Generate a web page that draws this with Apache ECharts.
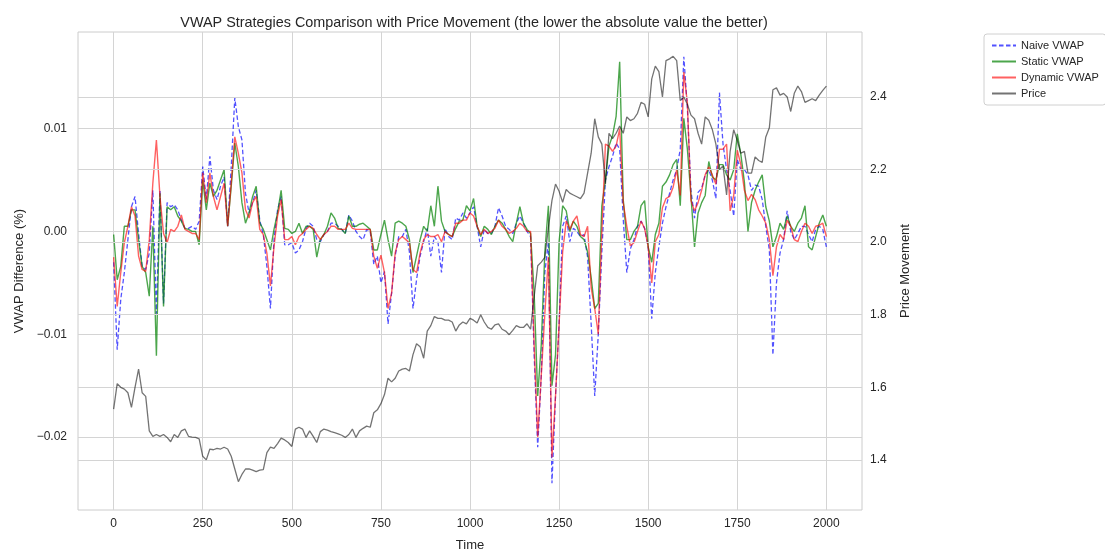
<!DOCTYPE html>
<html>
<head>
<meta charset="utf-8">
<script src="https://cdn.jsdelivr.net/npm/echarts@6/dist/echarts.min.js"></script>
<style>
  html, body { margin: 0; padding: 0; background: #ffffff; }
  #chart { width: 1105px; height: 551px; }
</style>
</head>
<body>
<div id="chart"></div>
<script>
// Time index (0 .. 2000, step 10)
const time = Array.from({ length: 201 }, (_, i) => i * 10);

// VWAP difference (%) series, one value per time step
const naiveVWAP = [
  -0.0030, -0.0115, -0.0066, -0.0040, -0.0008, 0.0024, 0.0034, -0.0002, -0.0034, -0.0037,
  -0.0021, 0.0040, -0.0080, 0.0040, -0.0070, 0.0028, 0.0024, 0.0026, 0.0021, 0.0011,
  0.0003, 0.0003, 0.0005, 0.0002, 0.0010, 0.0063, 0.0031, 0.0073, 0.0040, 0.0031,
  0.0044, 0.0053, 0.0005, 0.0063, 0.0130, 0.0102, 0.0089, 0.0037, 0.0018, 0.0028,
  0.0040, 0.0011, -0.0003, -0.0034, -0.0075, -0.0008, 0.0021, 0.0034, -0.0013, -0.0013,
  -0.0011, -0.0021, -0.0018, -0.0010, 0.0003, 0.0008, 0.0005, -0.0008, -0.0010, -0.0003,
  0.0000, 0.0008, 0.0008, 0.0005, 0.0002, -0.0002, 0.0016, 0.0010, 0.0000, -0.0005,
  -0.0008, 0.0002, 0.0000, -0.0032, -0.0024, -0.0050, -0.0039, -0.0090, -0.0060, -0.0024,
  -0.0005, -0.0005, 0.0002, -0.0020, -0.0075, -0.0047, -0.0024, -0.0010, 0.0003, -0.0024,
  -0.0005, -0.0010, -0.0040, 0.0003, -0.0005, -0.0008, 0.0013, 0.0011, 0.0018, 0.0013,
  0.0018, 0.0024, 0.0005, -0.0015, 0.0002, -0.0002, -0.0002, 0.0005, 0.0023, 0.0015,
  0.0005, 0.0002, -0.0002, 0.0008, 0.0015, 0.0008, 0.0000, -0.0005, -0.0120, -0.0210,
  -0.0140, -0.0040, -0.0010, -0.0245, -0.0160, -0.0090, 0.0005, 0.0015, -0.0010, 0.0003,
  0.0000, -0.0005, -0.0003, -0.0025, -0.0090, -0.0160, -0.0100, -0.0020, 0.0050, 0.0063,
  0.0073, 0.0086, 0.0080, 0.0012, -0.0040, -0.0017, -0.0008, 0.0005, 0.0010, 0.0003,
  -0.0015, -0.0085, -0.0040, -0.0015, 0.0008, 0.0024, 0.0037, 0.0050, 0.0060, 0.0080,
  0.0170, 0.0120, 0.0040, 0.0013, 0.0038, 0.0042, 0.0055, 0.0060, 0.0050, 0.0032,
  0.0135, 0.0085, 0.0060, 0.0040, 0.0015, 0.0070, 0.0060, 0.0060, 0.0055, 0.0040,
  0.0045, 0.0044, 0.0031, 0.0005, -0.0018, -0.0120, -0.0050, -0.0021, -0.0008, 0.0020,
  0.0000, -0.0008, -0.0002, 0.0005, 0.0005, -0.0003, -0.0010, 0.0002, 0.0005, 0.0002,
  -0.0015
];

const staticVWAP = [
  -0.0003, -0.0047, -0.0034, 0.0005, 0.0005, 0.0021, 0.0021, -0.0008, -0.0034, -0.0040,
  -0.0063, 0.0005, -0.0121, 0.0037, -0.0073, 0.0024, 0.0021, 0.0024, 0.0015, 0.0010,
  0.0003, 0.0002, 0.0000, 0.0000, -0.0013, 0.0050, 0.0021, 0.0047, 0.0034, 0.0040,
  0.0050, 0.0060, 0.0005, 0.0044, 0.0086, 0.0063, 0.0028, 0.0008, 0.0018, 0.0034,
  0.0044, 0.0008, 0.0002, -0.0008, -0.0018, 0.0002, 0.0018, 0.0040, 0.0003, 0.0002,
  -0.0002, 0.0000, 0.0008, -0.0002, 0.0005, 0.0005, 0.0002, -0.0025, -0.0008, -0.0003,
  0.0005, 0.0018, 0.0013, 0.0003, 0.0002, -0.0002, 0.0015, 0.0005, 0.0005, 0.0007,
  0.0008, 0.0005, 0.0002, -0.0018, -0.0018, -0.0003, 0.0011, -0.0008, -0.0024, 0.0008,
  0.0010, 0.0008, 0.0005, -0.0008, -0.0040, -0.0024, -0.0008, 0.0005, 0.0000, 0.0025,
  0.0005, 0.0044, 0.0010, 0.0000, -0.0003, -0.0005, 0.0003, 0.0010, 0.0011, 0.0025,
  0.0020, 0.0032, 0.0005, -0.0005, 0.0005, 0.0002, -0.0003, 0.0005, 0.0011, 0.0008,
  0.0002, -0.0005, -0.0010, 0.0008, 0.0024, 0.0008, 0.0002, -0.0002, -0.0060, -0.0160,
  -0.0110, -0.0020, 0.0025, -0.0150, -0.0120, -0.0010, 0.0025, 0.0020, 0.0000, 0.0010,
  0.0005, -0.0005, -0.0008, -0.0020, -0.0045, -0.0075, -0.0070, 0.0025, 0.0050, 0.0083,
  0.0093, 0.0112, 0.0165, 0.0031, -0.0008, -0.0008, 0.0000, 0.0005, 0.0025, 0.0030,
  -0.0015, -0.0030, -0.0003, 0.0008, 0.0044, 0.0048, 0.0055, 0.0065, 0.0070, 0.0025,
  0.0110, 0.0080, 0.0035, -0.0015, 0.0018, 0.0028, 0.0035, 0.0068, 0.0053, 0.0050,
  0.0065, 0.0065, 0.0055, 0.0050, 0.0060, 0.0095, 0.0075, 0.0048, 0.0000, 0.0028,
  0.0040, 0.0048, 0.0055, 0.0024, 0.0010, -0.0015, -0.0005, 0.0008, 0.0002, 0.0015,
  0.0005, 0.0000, 0.0008, 0.0013, 0.0025, -0.0015, -0.0018, -0.0005, 0.0008, 0.0016,
  0.0005
];

const dynamicVWAP = [
  -0.0025, -0.0073, -0.0040, -0.0011, 0.0005, 0.0024, 0.0015, -0.0024, -0.0037, -0.0039,
  -0.0008, 0.0047, 0.0089, 0.0034, -0.0002, -0.0011, 0.0002, 0.0000, 0.0005, 0.0016,
  0.0002, 0.0000, -0.0002, -0.0002, -0.0008, 0.0057, 0.0028, 0.0057, 0.0034, 0.0021,
  0.0034, 0.0047, 0.0005, 0.0047, 0.0092, 0.0076, 0.0057, 0.0021, 0.0013, 0.0028,
  0.0034, 0.0002, -0.0003, -0.0021, -0.0053, -0.0015, 0.0015, 0.0031, -0.0008, -0.0008,
  -0.0005, -0.0013, -0.0005, -0.0002, 0.0002, 0.0005, 0.0003, -0.0003, -0.0008, -0.0003,
  0.0000, 0.0005, 0.0005, 0.0002, 0.0002, 0.0002, 0.0008, 0.0003, 0.0002, 0.0002,
  0.0002, 0.0002, 0.0002, -0.0024, -0.0036, -0.0023, -0.0040, -0.0075, -0.0060, -0.0021,
  -0.0008, -0.0005, -0.0008, -0.0011, -0.0037, -0.0040, -0.0021, -0.0008, -0.0003, -0.0005,
  -0.0005, -0.0003, -0.0010, 0.0000, -0.0003, -0.0005, 0.0008, 0.0008, 0.0011, 0.0011,
  0.0018, 0.0015, 0.0005, -0.0003, 0.0002, -0.0002, 0.0000, 0.0003, 0.0011, 0.0005,
  0.0002, -0.0002, 0.0000, 0.0003, 0.0008, 0.0005, 0.0000, 0.0000, -0.0110, -0.0200,
  -0.0140, -0.0080, -0.0025, -0.0220, -0.0160, -0.0090, -0.0020, 0.0010, 0.0002, 0.0010,
  0.0015, -0.0003, -0.0005, 0.0005, -0.0055, -0.0075, -0.0100, 0.0000, 0.0085, 0.0083,
  0.0078, 0.0083, 0.0100, 0.0028, 0.0005, -0.0014, -0.0011, 0.0000, 0.0010, 0.0003,
  -0.0015, -0.0050, -0.0010, -0.0003, 0.0023, 0.0032, 0.0034, 0.0043, 0.0060, 0.0035,
  0.0155, 0.0125, 0.0030, 0.0020, 0.0028, 0.0040, 0.0055, 0.0063, 0.0055, 0.0046,
  0.0080, 0.0080, 0.0085, 0.0020, 0.0035, 0.0079, 0.0065, 0.0040, 0.0030, 0.0036,
  0.0031, 0.0021, 0.0015, 0.0008, -0.0008, -0.0043, -0.0015, -0.0003, -0.0008, 0.0011,
  0.0005, -0.0008, -0.0010, 0.0000, 0.0008, 0.0005, -0.0002, 0.0005, 0.0006, 0.0008,
  -0.0005
];

// Price series (right axis)
const price = [
  1.540, 1.610, 1.600, 1.595, 1.585, 1.545, 1.600, 1.650, 1.585, 1.575,
  1.480, 1.465, 1.470, 1.465, 1.470, 1.462, 1.450, 1.470, 1.462, 1.480,
  1.485, 1.465, 1.463, 1.462, 1.458, 1.410, 1.400, 1.430, 1.428, 1.432,
  1.430, 1.435, 1.430, 1.410, 1.375, 1.340, 1.360, 1.375, 1.375, 1.372,
  1.368, 1.372, 1.373, 1.420, 1.435, 1.432, 1.445, 1.460, 1.455, 1.448,
  1.437, 1.485, 1.490, 1.485, 1.462, 1.480, 1.465, 1.448, 1.478, 1.485,
  1.482, 1.478, 1.475, 1.472, 1.468, 1.462, 1.470, 1.485, 1.462, 1.480,
  1.487, 1.493, 1.490, 1.530, 1.538, 1.555, 1.580, 1.625, 1.615, 1.625,
  1.645, 1.650, 1.652, 1.645, 1.690, 1.720, 1.712, 1.680, 1.755, 1.770,
  1.795, 1.790, 1.790, 1.785, 1.785, 1.780, 1.755, 1.772, 1.780, 1.775,
  1.790, 1.785, 1.777, 1.800, 1.780, 1.765, 1.760, 1.772, 1.775, 1.760,
  1.755, 1.745, 1.757, 1.770, 1.765, 1.765, 1.775, 1.760, 1.850, 1.935,
  1.945, 1.958, 2.040, 2.115, 2.160, 2.140, 2.110, 2.145, 2.135, 2.130,
  2.125, 2.120, 2.135, 2.190, 2.245, 2.340, 2.290, 2.270, 2.160, 2.300,
  2.285, 2.300, 2.320, 2.300, 2.345, 2.335, 2.340, 2.355, 2.385, 2.380,
  2.345, 2.450, 2.485, 2.470, 2.400, 2.500, 2.505, 2.512, 2.500, 2.390,
  2.400, 2.380, 2.350, 2.340, 2.300, 2.270, 2.345, 2.336, 2.310, 2.270,
  2.200, 2.210, 2.130, 2.250, 2.310, 2.280, 2.245, 2.250, 2.190, 2.190,
  2.235, 2.225, 2.220, 2.290, 2.315, 2.420, 2.425, 2.405, 2.410, 2.400,
  2.360, 2.410, 2.430, 2.415, 2.385, 2.390, 2.395, 2.390, 2.405, 2.418,
  2.430
];

// Tick labels
const xTicks = [0, 250, 500, 750, 1000, 1250, 1500, 1750, 2000];
const leftTicks = [-0.02, -0.01, 0.00, 0.01];
const rightTicks = [1.4, 1.6, 1.8, 2.0, 2.2, 2.4];

const TEXT = '#262626';
const GRIDC = '#d4d4d4';
const FONT = 'Liberation Sans, Arial, sans-serif';

const pairs = arr => time.map((t, i) => [t, arr[i]]);
const fmtMinus = s => s.replace('-', '\u2212');

const chart = echarts.init(document.getElementById('chart'), null, { renderer: 'canvas' });

const option = {
  backgroundColor: '#ffffff',
  animation: false,
  textStyle: { fontFamily: FONT },
  title: {
    text: 'VWAP Strategies Comparison with Price Movement (the lower the absolute value the better)',
    left: 469,
    textAlign: 'center',
    top: 11,
    textStyle: { fontFamily: FONT, fontSize: 14.4, fontWeight: 'normal', color: TEXT }
  },
  legend: {
    orient: 'vertical',
    left: 984,
    top: 34,
    padding: [6, 7, 6, 7],
    itemGap: 5,
    itemWidth: 24,
    itemHeight: 12,
    backgroundColor: 'rgba(255,255,255,0.8)',
    borderColor: '#d0d0d0',
    borderWidth: 1,
    borderRadius: 3,
    itemStyle: { opacity: 0, borderWidth: 0 },
    textStyle: { fontFamily: FONT, fontSize: 11, color: TEXT },
    data: ['Naive VWAP', 'Static VWAP', 'Dynamic VWAP', 'Price']
  },
  grid: {
    left: 78, right: 243, top: 32, bottom: 41,
    outerBoundsMode: 'none',
    containLabel: false,
    show: true, borderColor: '#cccccc', borderWidth: 1,
    backgroundColor: 'transparent'
  },
  xAxis: {
    type: 'value',
    min: -100, max: 2100,
    name: 'Time',
    nameLocation: 'middle',
    nameGap: 29,
    nameTextStyle: { fontFamily: FONT, fontSize: 13, color: TEXT },
    axisLine: { show: false },
    axisTick: { show: false, customValues: xTicks },
    splitLine: { show: false },
    axisLabel: {
      customValues: xTicks,
      margin: 8,
      fontFamily: FONT, fontSize: 12, color: TEXT,
      formatter: v => String(v)
    }
  },
  yAxis: [
    {
      type: 'value',
      min: -0.0271, max: 0.0194,
      position: 'left',
      name: 'VWAP Difference (%)',
      nameLocation: 'middle',
      nameRotate: 90,
      nameGap: 50,
      nameTextStyle: { fontFamily: FONT, fontSize: 13, color: TEXT },
      axisLine: { show: false },
      axisTick: { show: false, customValues: leftTicks },
      splitLine: { show: false },
      axisLabel: {
        customValues: leftTicks,
        margin: 11,
        fontFamily: FONT, fontSize: 12, color: TEXT,
        formatter: v => fmtMinus(v.toFixed(2))
      }
    },
    {
      type: 'value',
      min: 1.262, max: 2.579,
      position: 'right',
      name: 'Price Movement',
      nameLocation: 'middle',
      nameRotate: 90,
      nameGap: 37,
      nameTextStyle: { fontFamily: FONT, fontSize: 13, color: TEXT },
      axisLine: { show: false },
      axisTick: { show: false, customValues: rightTicks },
      splitLine: { show: false },
      axisLabel: {
        customValues: rightTicks,
        margin: 8,
        fontFamily: FONT, fontSize: 12, color: TEXT,
        formatter: v => v.toFixed(1)
      }
    }
  ],
  series: [
    {
      name: '_gridLeft', type: 'line', data: [], yAxisIndex: 0, z: 1, silent: true,
      markLine: {
        silent: true, symbol: ['none', 'none'], animation: false, z: 1,
        label: { show: false },
        lineStyle: { color: GRIDC, width: 1, type: 'solid' },
        emphasis: { disabled: true },
        data: xTicks.map(v => ({ xAxis: v })).concat(leftTicks.map(v => ({ yAxis: v })))
      }
    },
    {
      name: 'Naive VWAP', type: 'line', yAxisIndex: 0, z: 3,
      data: pairs(naiveVWAP), showSymbol: false, symbol: 'none',
      color: 'rgba(0,0,255,0.68)',
      lineStyle: { color: 'rgba(0,0,255,0.68)', width: 1.3, type: [4.5, 2.5] }
    },
    {
      name: 'Static VWAP', type: 'line', yAxisIndex: 0, z: 4,
      data: pairs(staticVWAP), showSymbol: false, symbol: 'none',
      color: 'rgba(0,128,0,0.7)',
      lineStyle: { color: 'rgba(0,128,0,0.7)', width: 1.4 }
    },
    {
      name: 'Dynamic VWAP', type: 'line', yAxisIndex: 0, z: 5,
      data: pairs(dynamicVWAP), showSymbol: false, symbol: 'none',
      color: 'rgba(255,0,0,0.62)',
      lineStyle: { color: 'rgba(255,0,0,0.62)', width: 1.4 }
    },
    {
      name: '_gridRight', type: 'line', data: [], yAxisIndex: 1, z: 6, silent: true,
      markLine: {
        silent: true, symbol: ['none', 'none'], animation: false, z: 6,
        label: { show: false },
        lineStyle: { color: GRIDC, width: 1, type: 'solid' },
        emphasis: { disabled: true },
        data: rightTicks.map(v => ({ yAxis: v }))
      }
    },
    {
      name: 'Price', type: 'line', yAxisIndex: 1, z: 7,
      data: pairs(price), showSymbol: false, symbol: 'none',
      color: 'rgba(0,0,0,0.55)',
      lineStyle: { color: 'rgba(0,0,0,0.55)', width: 1.3 }
    }
  ]
};

chart.setOption(option);
</script>
</body>
</html>
